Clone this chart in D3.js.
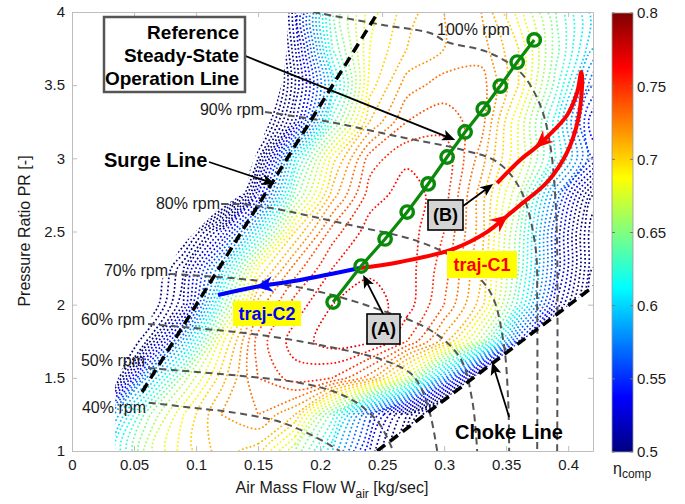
<!DOCTYPE html>
<html>
<head>
<meta charset="utf-8">
<script src="https://cdn.jsdelivr.net/npm/d3@7"></script>
<style>
body { margin: 0; background: #fff; }
svg text { font-family: "Liberation Sans", Arial, sans-serif; }
</style>
</head>
<body>
<div id="chart"></div>
<script>
// ---- data ----
var ticksW = [0, 0.05, 0.1, 0.15, 0.2, 0.25, 0.3, 0.35, 0.4];
var ticksPR = [1, 1.5, 2, 2.5, 3, 3.5, 4];
var ticksEta = [0.5, 0.55, 0.6, 0.65, 0.7, 0.75, 0.8];

// efficiency map sampled on a grid (rows = PR from 4 down to 1)
var effW = [0, 0.03, 0.06, 0.09, 0.12, 0.15, 0.18, 0.21, 0.24, 0.27, 0.30, 0.33, 0.36, 0.39, 0.42];
var effPR = [4, 3.75, 3.5, 3.25, 3, 2.75, 2.5, 2.25, 2, 1.75, 1.5, 1.25, 1];
var effGrid = [
  [0.20, 0.24, 0.28, 0.32, 0.36, 0.40, 0.52, 0.64, 0.685, 0.705, 0.72, 0.72, 0.685, 0.64, 0.595],
  [0.20, 0.24, 0.28, 0.32, 0.36, 0.40, 0.51, 0.63, 0.69, 0.71, 0.72, 0.725, 0.70, 0.645, 0.59],
  [0.20, 0.24, 0.28, 0.32, 0.36, 0.40, 0.50, 0.60, 0.695, 0.725, 0.735, 0.735, 0.70, 0.635, 0.56],
  [0.20, 0.24, 0.28, 0.32, 0.36, 0.43, 0.52, 0.635, 0.71, 0.74, 0.745, 0.735, 0.68, 0.615, 0.53],
  [0.20, 0.24, 0.28, 0.32, 0.40, 0.48, 0.61, 0.695, 0.745, 0.758, 0.757, 0.725, 0.68, 0.62, 0.55],
  [0.20, 0.24, 0.28, 0.34, 0.40, 0.53, 0.645, 0.715, 0.755, 0.765, 0.755, 0.715, 0.66, 0.57, 0.48],
  [0.20, 0.26, 0.34, 0.45, 0.52, 0.61, 0.70, 0.745, 0.765, 0.765, 0.75, 0.715, 0.645, 0.55, 0.46],
  [0.24, 0.32, 0.44, 0.50, 0.59, 0.69, 0.735, 0.76, 0.768, 0.765, 0.745, 0.71, 0.64, 0.55, 0.46],
  [0.28, 0.36, 0.45, 0.51, 0.63, 0.725, 0.755, 0.77, 0.775, 0.765, 0.74, 0.705, 0.625, 0.53, 0.44],
  [0.32, 0.44, 0.49, 0.585, 0.685, 0.745, 0.765, 0.775, 0.772, 0.75, 0.715, 0.655, 0.55, 0.45, 0.38],
  [0.36, 0.46, 0.58, 0.655, 0.705, 0.74, 0.755, 0.75, 0.725, 0.67, 0.58, 0.48, 0.40, 0.33, 0.28],
  [0.42, 0.57, 0.645, 0.69, 0.72, 0.73, 0.71, 0.635, 0.555, 0.49, 0.42, 0.36, 0.32, 0.28, 0.25],
  [0.50, 0.60, 0.665, 0.695, 0.715, 0.705, 0.66, 0.60, 0.53, 0.46, 0.40, 0.35, 0.31, 0.27, 0.24]
];
var effLevels = [0.40, 0.41, 0.42, 0.43, 0.44, 0.45, 0.46, 0.47, 0.48, 0.49, 0.50, 0.51, 0.52, 0.53, 0.54,
  0.55, 0.56, 0.57, 0.58, 0.59, 0.60, 0.61, 0.62, 0.63, 0.64, 0.65, 0.66, 0.67, 0.68, 0.69, 0.70,
  0.71, 0.72, 0.73, 0.74, 0.75, 0.76, 0.77];

// outline of the measured map region
var mapEdge = [[0.0347, 1.0], [0.0347, 1.451], [0.0484, 1.724], [0.0621, 1.861], [0.0726, 2.175],
  [0.0887, 2.408], [0.1153, 2.633], [0.1395, 2.770], [0.1435, 2.927], [0.1516, 3.091],
  [0.1621, 3.317], [0.1702, 3.542], [0.1734, 3.774], [0.1734, 4.0], [0.42, 4.0], [0.42, 2.122], [0.246, 1.0]];

var surgeLine = [[0.0565, 1.403], [0.2468, 4.0]];
var chokeLine = [[0.246, 1.0], [0.42, 2.122]];

var speedNames = ["40% rpm", "50% rpm", "60% rpm", "70% rpm", "80% rpm", "90% rpm", "100% rpm"];
var speed40 = [[0.062, 1.33], [0.103, 1.29], [0.127, 1.267], [0.168, 1.198], [0.196, 1.096], [0.216, 1.0]];
var speed50 = [[0.0613, 1.567], [0.1452, 1.506], [0.1839, 1.465], [0.2121, 1.403], [0.2323, 1.314], [0.2484, 1.178], [0.2589, 1.0]];
var speed60 = [[0.0613, 1.868], [0.1452, 1.80], [0.2, 1.724], [0.2508, 1.622], [0.2726, 1.533], [0.2806, 1.444], [0.2887, 1.253], [0.2944, 1.0]];
var speed70 = [[0.079, 2.21], [0.1452, 2.168], [0.2, 2.087], [0.2484, 1.964], [0.2887, 1.827], [0.3129, 1.636], [0.3226, 1.348], [0.3266, 1.0]];
var speed80 = [[0.1202, 2.688], [0.1452, 2.681], [0.2242, 2.544], [0.2806, 2.428], [0.3129, 2.292], [0.3371, 2.087], [0.3476, 1.758], [0.3516, 1.348], [0.3524, 1.0]];
var speed90 = [[0.1556, 3.317], [0.2081, 3.248], [0.2645, 3.146], [0.3153, 3.057], [0.3427, 2.975], [0.3613, 2.79], [0.3734, 2.408], [0.375, 1.95], [0.375, 1.0]];
var speed100 = [[0.1944, 4.0], [0.2508, 3.911], [0.2887, 3.856], [0.3024, 3.795], [0.3347, 3.727], [0.3613, 3.59], [0.3774, 3.364], [0.3855, 3.091], [0.3895, 2.749], [0.3911, 2.374], [0.3911, 1.0]];
var speedLines = [speed40, speed50, speed60, speed70, speed80, speed90, speed100];

var opLine = [[0.2105, 2.018], [0.2331, 2.264], [0.2524, 2.449], [0.2702, 2.633], [0.2871, 2.825],
  [0.3024, 3.009], [0.3169, 3.180], [0.3315, 3.337], [0.3452, 3.494], [0.3589, 3.658], [0.3726, 3.809]];

var trajC1 = [[0.2323, 2.250], [0.2645, 2.292], [0.3073, 2.380], [0.3347, 2.497], [0.3516, 2.613],
  [0.3613, 2.681], [0.3831, 2.838], [0.3992, 3.043], [0.4081, 3.269], [0.4113, 3.542], [0.4105, 3.590],
  [0.4073, 3.453], [0.3992, 3.296], [0.3831, 3.146], [0.3734, 3.071], [0.3613, 2.989], [0.3427, 2.831]];
var trajC2 = [[0.2323, 2.250], [0.1839, 2.169], [0.1476, 2.121], [0.1177, 2.066]];

// ---- layout ----
var width = 685, height = 504;
var svg = d3.select("#chart").append("svg").attr("width", width).attr("height", height);

var x = d3.scaleLinear().domain([0, 0.42]).range([72, 593]);
var y = d3.scaleLinear().domain([1, 4]).range([451, 12]);
var cbar = d3.scaleLinear().domain([0.5, 0.8]).range([452, 13]);

var jetStops = [0.5, 0.5375, 0.6125, 0.6875, 0.7625, 0.8];
var jetColors = ["#000080", "#0000ff", "#00ffff", "#ffff00", "#ff0000", "#800000"];
var jet = d3.scaleLinear().domain(jetStops).range(jetColors).clamp(true);

var line = d3.line().x(function(d) { return x(d[0]); }).y(function(d) { return y(d[1]); });
var smooth = d3.line().x(function(d) { return x(d[0]); }).y(function(d) { return y(d[1]); }).curve(d3.curveCatmullRom.alpha(0.5));

var defs = svg.append("defs");
defs.append("clipPath").attr("id", "mapClip").append("path").attr("d", line(mapEdge) + "Z");
defs.append("clipPath").attr("id", "plotClip").append("rect")
  .attr("x", 72).attr("y", 12).attr("width", 521).attr("height", 439);

// efficiency contours (dotted)
var nx = effW.length, ny = effPR.length;
var iso = d3.contours().size([nx, ny]).thresholds(effLevels)(d3.merge(effGrid));
var dW = effW[1] - effW[0], dPR = effPR[1] - effPR[0];
var ring = d3.line()
  .x(function(p) { return x(effW[0] + (p[0] - 0.5) * dW); })
  .y(function(p) { return y(effPR[0] + (p[1] - 0.5) * dPR); })
  .curve(d3.curveCatmullRomClosed.alpha(0.5));

var gMap = svg.append("g").attr("clip-path", "url(#mapClip)");
iso.forEach(function(c) {
  c.coordinates.forEach(function(poly) {
    poly.forEach(function(r) {
      gMap.append("path")
        .attr("d", ring(r.slice(0, -1)))
        .attr("fill", "none")
        .attr("stroke", jet(c.value))
        .attr("stroke-width", 1.7)
        .attr("stroke-dasharray", "1.7,2.3");
    });
  });
});

// axes
var axisColor = "#bdbdbd";
function styleAxis(g) {
  g.select(".domain").attr("stroke", axisColor);
  g.selectAll(".tick line").attr("stroke", axisColor);
  g.selectAll(".tick text").attr("fill", "#1a1a1a").style("font-size", "15px");
}
svg.append("g").attr("transform", "translate(0,451)")
  .call(d3.axisBottom(x).tickValues(ticksW).tickFormat(function(d) { return String(d); })
    .tickSizeInner(-5).tickSizeOuter(0).tickPadding(8)).call(styleAxis);
svg.append("g").attr("transform", "translate(0,12)")
  .call(d3.axisTop(x).tickValues(ticksW).tickFormat("").tickSizeInner(-5).tickSizeOuter(0)).call(styleAxis);
svg.append("g").attr("transform", "translate(72,0)")
  .call(d3.axisLeft(y).tickValues(ticksPR).tickFormat(function(d) { return String(d); })
    .tickSizeInner(-5).tickSizeOuter(0).tickPadding(7)).call(styleAxis);
svg.append("g").attr("transform", "translate(593,0)")
  .call(d3.axisRight(y).tickValues(ticksPR).tickFormat("").tickSizeInner(-5).tickSizeOuter(0)).call(styleAxis);

var xt = svg.append("text").attr("x", 332).attr("y", 493).attr("text-anchor", "middle")
  .style("font-size", "16px").attr("fill", "#1a1a1a");
xt.append("tspan").text("Air Mass Flow W");
xt.append("tspan").attr("dy", 5).style("font-size", "12px").text("air");
xt.append("tspan").attr("dy", -5).text(" [kg/sec]");

svg.append("text").attr("transform", "translate(30,231) rotate(-90)").attr("text-anchor", "middle")
  .style("font-size", "16px").attr("fill", "#1a1a1a").text("Pressure Ratio PR [-]");

// speed lines
var gPlot = svg.append("g").attr("clip-path", "url(#plotClip)");
speedLines.forEach(function(s) {
  gPlot.append("path").attr("d", smooth(s)).attr("fill", "none")
    .attr("stroke", "#555").attr("stroke-width", 2).attr("stroke-dasharray", "7,4.5");
});
var speedLabelXY = [[146, 413], [145, 366], [145, 325], [168, 276], [220, 209], [264, 115], [437, 35]];
speedNames.forEach(function(n, i) {
  svg.append("text").attr("x", speedLabelXY[i][0]).attr("y", speedLabelXY[i][1])
    .attr("text-anchor", i === 6 ? "start" : "end")
    .style("font-size", "16px").attr("fill", "#1a1a1a").text(n);
});

// surge and choke lines
[surgeLine, chokeLine].forEach(function(l) {
  gPlot.append("path").attr("d", line(l)).attr("fill", "none")
    .attr("stroke", "#000").attr("stroke-width", 3.5).attr("stroke-dasharray", "10,6");
});

// arrow helpers
function unit(a, b) {
  var dx = b[0] - a[0], dy = b[1] - a[1], l = Math.sqrt(dx * dx + dy * dy);
  return [dx / l, dy / l];
}
function head(tip, u, L, H, N) {
  var bx = tip[0] - L * u[0], by = tip[1] - L * u[1];
  return "M" + tip[0] + "," + tip[1] +
    "L" + (bx - H * u[1]) + "," + (by + H * u[0]) +
    "L" + (tip[0] - (L - N) * u[0]) + "," + (tip[1] - (L - N) * u[1]) +
    "L" + (bx + H * u[1]) + "," + (by - H * u[0]) + "Z";
}
function px(d) { return [x(d[0]), y(d[1])]; }

// black annotation arrows
var noteArrows = [
  [[0.1379, 3.706], [0.3089, 3.125]],
  [[0.1105, 2.975], [0.1637, 2.825]],
  [[0.3524, 1.232], [0.3387, 1.608]],
  [[0.2508, 1.936], [0.2347, 2.203]],
  [[0.3153, 2.674], [0.3395, 2.825]]
];
noteArrows.forEach(function(a) {
  var p0 = px(a[0]), p1 = px(a[1]), u = unit(p0, p1);
  svg.append("line").attr("x1", p0[0]).attr("y1", p0[1])
    .attr("x2", p1[0] - 8 * u[0]).attr("y2", p1[1] - 8 * u[1])
    .attr("stroke", "#000").attr("stroke-width", 1.8);
  svg.append("path").attr("d", head(p1, u, 13, 5.5, 3)).attr("fill", "#000");
});

// trajectories
svg.append("path").attr("d", smooth(trajC2)).attr("fill", "none")
  .attr("stroke", "#0000ff").attr("stroke-width", 4);
svg.append("path").attr("d", smooth(trajC1)).attr("fill", "none")
  .attr("stroke", "#ff0000").attr("stroke-width", 4).attr("stroke-linejoin", "round");
function trajHead(path, i, color) {
  var tip = px(path[i]), u = unit(px(path[i - 1]), tip);
  svg.append("path").attr("d", head(tip, u, 18, 8, 6)).attr("fill", color);
}
trajHead(trajC2, 2, "#0000ff");
trajHead(trajC1, 4, "#ff0000");
trajHead(trajC1, 14, "#ff0000");

// reference operating line
var green = "#0a8a0a";
svg.append("path").attr("d", line(opLine)).attr("fill", "none")
  .attr("stroke", green).attr("stroke-width", 3.2);
svg.selectAll("circle.op").data(opLine).enter().append("circle").attr("class", "op")
  .attr("cx", function(d) { return x(d[0]); }).attr("cy", function(d) { return y(d[1]); })
  .attr("r", 6.2).attr("fill", "none").attr("stroke", green).attr("stroke-width", 3.4);

// labels
svg.append("rect").attr("x", 104).attr("y", 17).attr("width", 141).attr("height", 75)
  .attr("fill", "#fff").attr("stroke", "#555").attr("stroke-width", 2.5);
["Reference", "Steady-State", "Operation Line"].forEach(function(t, i) {
  svg.append("text").attr("x", 239).attr("y", 39 + i * 23).attr("text-anchor", "end")
    .style("font-size", "19px").style("font-weight", "bold").text(t);
});
svg.append("text").attr("x", 104).attr("y", 167).style("font-size", "20px").style("font-weight", "bold").text("Surge Line");
svg.append("text").attr("x", 455).attr("y", 439).style("font-size", "20px").style("font-weight", "bold").text("Choke Line");

function tagBox(x0, y0, w, h, fill, stroke, txt, color, size) {
  var r = svg.append("rect").attr("x", x0).attr("y", y0).attr("width", w).attr("height", h).attr("fill", fill);
  if (stroke) r.attr("stroke", stroke).attr("stroke-width", 1.6);
  svg.append("text").attr("x", x0 + w / 2).attr("y", y0 + h / 2).attr("dy", "0.36em")
    .attr("text-anchor", "middle").attr("fill", color)
    .style("font-size", size + "px").style("font-weight", "bold").text(txt);
}
tagBox(367, 314, 33, 30, "#d4d4d4", "#000", "(A)", "#000", 18);
tagBox(428, 200, 35, 30, "#d4d4d4", "#000", "(B)", "#000", 18);
tagBox(447, 251, 70, 27, "#ffff00", null, "traj-C1", "#ff0000", 18);
tagBox(233, 301, 68, 25, "#ffff00", null, "traj-C2", "#0000ff", 18);

// colorbar
var grad = defs.append("linearGradient").attr("id", "jetGrad")
  .attr("x1", 0).attr("y1", 1).attr("x2", 0).attr("y2", 0);
jetStops.forEach(function(v, i) {
  grad.append("stop").attr("offset", (v - 0.5) / 0.3).attr("stop-color", jetColors[i]);
});
svg.append("rect").attr("x", 612).attr("y", 13).attr("width", 21).attr("height", 439)
  .attr("fill", "url(#jetGrad)").attr("stroke", "#999").attr("stroke-width", 0.8);
ticksEta.forEach(function(v) {
  svg.append("line").attr("x1", 612).attr("x2", 615).attr("y1", cbar(v)).attr("y2", cbar(v)).attr("stroke", "#777");
  svg.append("line").attr("x1", 630).attr("x2", 633).attr("y1", cbar(v)).attr("y2", cbar(v)).attr("stroke", "#777");
  svg.append("text").attr("x", 637).attr("y", cbar(v)).attr("dy", "0.36em")
    .style("font-size", "15px").attr("fill", "#1a1a1a").text(String(v));
});
var et = svg.append("text").attr("x", 613).attr("y", 474).style("font-size", "16px").attr("fill", "#1a1a1a");
et.append("tspan").text("\u03b7");
et.append("tspan").attr("dy", 4).style("font-size", "12px").text("comp");
</script>
</body>
</html>
